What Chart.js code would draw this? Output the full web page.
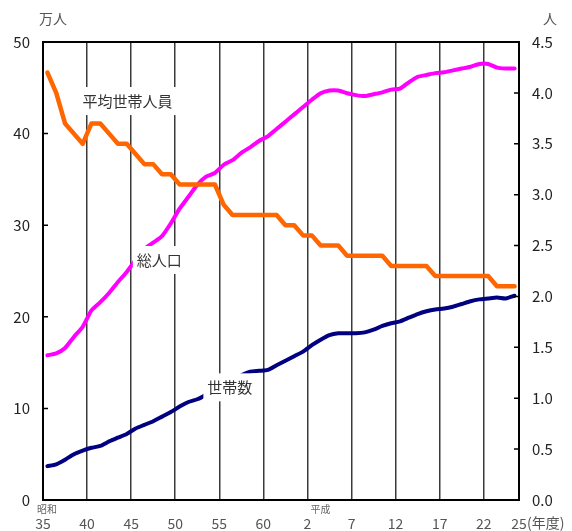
<!DOCTYPE html>
<html>
<head>
<meta charset="utf-8">
<script src="https://cdn.jsdelivr.net/npm/chart.js@4/dist/chart.umd.min.js"></script>
<style>
  html, body { margin: 0; padding: 0; background: #fff; }
  #wrap { width: 572px; height: 531px; }
</style>
</head>
<body>
<div id="wrap"><canvas id="c" width="572" height="531"></canvas></div>
<script>
// 年度（昭和35年度〜平成25年度）
const fiscalYears = [
  '昭和35','昭和36','昭和37','昭和38','昭和39','昭和40','昭和41','昭和42','昭和43','昭和44',
  '昭和45','昭和46','昭和47','昭和48','昭和49','昭和50','昭和51','昭和52','昭和53','昭和54',
  '昭和55','昭和56','昭和57','昭和58','昭和59','昭和60','昭和61','昭和62','昭和63','平成元',
  '平成2','平成3','平成4','平成5','平成6','平成7','平成8','平成9','平成10','平成11',
  '平成12','平成13','平成14','平成15','平成16','平成17','平成18','平成19','平成20','平成21',
  '平成22','平成23','平成24','平成25'
];

// 総人口（万人）
const totalPopulation = [
  15.8, 16.0, 16.6, 17.8, 18.9, 20.7, 21.6, 22.6, 23.8, 24.9,
  26.2, 27.4, 28.1, 28.8, 30.2, 31.8, 33.1, 34.4, 35.3, 35.7,
  36.6, 37.1, 37.9, 38.5, 39.2, 39.7, 40.5, 41.3, 42.1, 42.9,
  43.7, 44.4, 44.7, 44.7, 44.4, 44.2, 44.1, 44.3, 44.5, 44.8,
  44.9, 45.6, 46.2, 46.4, 46.6, 46.7, 46.9, 47.1, 47.3, 47.6,
  47.6, 47.2, 47.1, 47.1
];

// 世帯数（万世帯）
const households = [
  3.7, 3.9, 4.4, 5.0, 5.4, 5.7, 5.9, 6.4, 6.8, 7.2,
  7.8, 8.2, 8.6, 9.1, 9.6, 10.2, 10.7, 11.0, 11.5, 12.1,
  12.6, 13.1, 13.6, 14.0, 14.1, 14.2, 14.7, 15.2, 15.7, 16.2,
  16.9, 17.5, 18.0, 18.2, 18.2, 18.2, 18.3, 18.6, 19.0, 19.3,
  19.5, 19.9, 20.3, 20.6, 20.8, 20.9, 21.1, 21.4, 21.7, 21.9,
  22.0, 22.1, 22.0, 22.3
];

// 平均世帯人員（人）
const membersPerHousehold = [
  4.2, 4.0, 3.7, 3.6, 3.5, 3.7, 3.7, 3.6, 3.5, 3.5,
  3.4, 3.3, 3.3, 3.2, 3.2, 3.1, 3.1, 3.1, 3.1, 3.1,
  2.9, 2.8, 2.8, 2.8, 2.8, 2.8, 2.8, 2.7, 2.7, 2.6,
  2.6, 2.5, 2.5, 2.5, 2.4, 2.4, 2.4, 2.4, 2.4, 2.3,
  2.3, 2.3, 2.3, 2.3, 2.2, 2.2, 2.2, 2.2, 2.2, 2.2,
  2.2, 2.1, 2.1, 2.1
];

// 横軸の目盛（年度の区切り）と表示文字
const yearTickSlots  = [0, 5, 10, 15, 20, 25, 30, 35, 40, 45, 50, 54];
const yearTickLabels = ['35', '40', '45', '50', '55', '60', '2', '7', '12', '17', '22', '25'];

const JP_FONT = '"Noto Sans CJK JP", "Noto Sans", sans-serif';

// 枠・内向き目盛・単位・系列名の描画
const decorations = {
  id: 'decorations',
  afterDraw(chart) {
    const { ctx, chartArea: a, scales } = chart;
    ctx.save();

    // 上辺の枠線
    ctx.strokeStyle = '#000';
    ctx.lineWidth = 2;
    ctx.beginPath();
    ctx.moveTo(a.left - 1, a.top);
    ctx.lineTo(a.right + 1, a.top);
    ctx.stroke();

    // 内向きの目盛
    ctx.lineWidth = 1.5;
    ctx.beginPath();
    scales.y.ticks.forEach(t => {
      const py = scales.y.getPixelForValue(t.value);
      ctx.moveTo(a.left, py); ctx.lineTo(a.left + 5, py);
    });
    scales.y2.ticks.forEach(t => {
      const py = scales.y2.getPixelForValue(t.value);
      ctx.moveTo(a.right - 5, py); ctx.lineTo(a.right, py);
    });
    ctx.stroke();

    // 単位
    ctx.fillStyle = '#555';
    ctx.font = '14px ' + JP_FONT;
    ctx.textBaseline = 'middle';
    ctx.textAlign = 'center';
    ctx.fillText('万人', 53, 19);
    ctx.fillText('人', 550, 19);

    // 元号と年度表記
    const xt = scales.xt;
    ctx.font = '10px ' + JP_FONT;
    ctx.fillStyle = '#666';
    ctx.textAlign = 'left';
    ctx.fillText('昭和', xt.getPixelForValue(0) - 6, 509);
    ctx.fillText('平成', xt.getPixelForValue(30) + 3, 509);
    ctx.font = '14px ' + JP_FONT;
    ctx.fillStyle = '#555';
    ctx.fillText('(年度)', xt.getPixelForValue(54) + 8, 523);

    // 系列名（白地の札）
    const notes = [
      { text: '平均世帯人員', slot: 9.1,  value: 3.92, axis: 'y2' },
      { text: '総人口',       slot: 12.7, value: 26.2, axis: 'y' },
      { text: '世帯数',       slot: 20.7, value: 12.3, axis: 'y' }
    ];
    ctx.font = '15px ' + JP_FONT;
    ctx.textAlign = 'center';
    notes.forEach(n => {
      const cx = scales.x.getPixelForValue(n.slot);
      const cy = scales[n.axis].getPixelForValue(n.value);
      const w = ctx.measureText(n.text).width + 8;
      ctx.fillStyle = '#fff';
      ctx.fillRect(cx - w / 2, cy - 14, w, 28);
      ctx.fillStyle = '#333';
      ctx.fillText(n.text, cx, cy);
    });

    ctx.restore();
  }
};

new Chart(document.getElementById('c'), {
  type: 'line',
  data: {
    labels: fiscalYears,
    datasets: [
      {
        label: '平均世帯人員',
        data: membersPerHousehold,
        yAxisID: 'y2',
        xAxisID: 'x',
        borderColor: '#ff6600',
        borderWidth: 4.5,
        tension: 0,
        pointRadius: 0,
        borderCapStyle: 'round',
        borderJoinStyle: 'round'
      },
      {
        label: '総人口',
        data: totalPopulation,
        yAxisID: 'y',
        xAxisID: 'x',
        borderColor: '#ff00ff',
        borderWidth: 4,
        tension: 0.2,
        pointRadius: 0,
        borderCapStyle: 'round',
        borderJoinStyle: 'round'
      },
      {
        label: '世帯数',
        data: households,
        yAxisID: 'y',
        xAxisID: 'x',
        borderColor: '#000080',
        borderWidth: 4,
        tension: 0.2,
        pointRadius: 0,
        borderCapStyle: 'round',
        borderJoinStyle: 'round'
      }
    ]
  },
  options: {
    responsive: false,
    animation: false,
    devicePixelRatio: 1,
    layout: { padding: { top: 42, left: 0, right: 0, bottom: 0 } },
    plugins: { legend: { display: false }, tooltip: { enabled: false } },
    scales: {
      x: {
        type: 'category',
        display: false,
        offset: true
      },
      xt: {
        type: 'linear',
        position: 'bottom',
        min: 0,
        max: fiscalYears.length,
        afterBuildTicks: s => { s.ticks = yearTickSlots.map(v => ({ value: v })); },
        afterFit: s => { s.height = 31; },
        ticks: {
          autoSkip: false,
          maxRotation: 0,
          padding: 15,
          color: '#555',
          font: { family: JP_FONT, size: 14 },
          callback: v => yearTickLabels[yearTickSlots.indexOf(v)]
        },
        grid: {
          drawTicks: false,
          lineWidth: 1.5,
          color: c => (c.index === 0 || c.index === yearTickSlots.length - 1) ? 'rgba(0,0,0,0)' : '#3a3a3a'
        },
        border: { color: '#000', width: 2 }
      },
      y: {
        position: 'left',
        min: 0,
        max: 50,
        afterFit: s => { s.width = 43; },
        ticks: {
          stepSize: 10,
          padding: 13,
          color: '#222',
          font: { family: JP_FONT, size: 15 }
        },
        grid: { display: false, drawTicks: false },
        border: { color: '#000', width: 2 }
      },
      y2: {
        position: 'right',
        min: 0,
        max: 4.5,
        afterFit: s => { s.width = 53; },
        ticks: {
          stepSize: 0.5,
          padding: 13,
          color: '#222',
          font: { family: JP_FONT, size: 15 },
          callback: v => Number(v).toFixed(1)
        },
        grid: { display: false, drawTicks: false },
        border: { color: '#000', width: 2 }
      }
    }
  },
  plugins: [decorations]
});
</script>
</body>
</html>
